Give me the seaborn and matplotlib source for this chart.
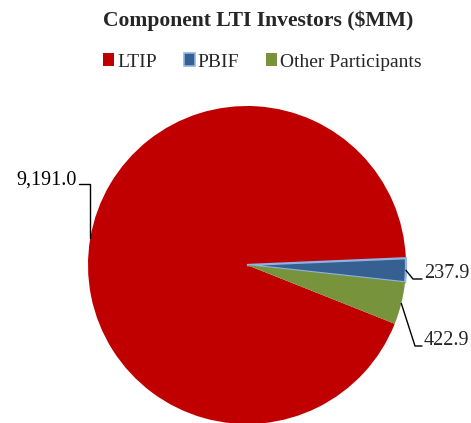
import numpy as np
import matplotlib
matplotlib.use("Agg")
import matplotlib.pyplot as plt
import seaborn as sns
from matplotlib.patches import Patch

categories = ["LTIP", "PBIF", "Other Participants"]
values = [9191.0, 237.9, 422.9]
labels = ["9,191.0", "237.9", "422.9"]
colors = ["#C00000", "#376092", "#77933C"]
title = "Component LTI Investors ($MM)"

sns.set_theme(style="white")
plt.rcParams["font.family"] = ["Liberation Serif", "DejaVu Serif"]

W, H = 471, 423
fig = plt.figure(figsize=(W / 100, H / 100), dpi=100)
ax = fig.add_axes([0, 0, 1, 1])
cx, cy, R = 247, 265, 159  # pixel geometry of pie
start = -21.7

wedges, _ = ax.pie(values, colors=colors, startangle=start, counterclock=False,
                   radius=1.0, wedgeprops=dict(linewidth=0))
wedges[1].set_edgecolor("#8EB4E3")
wedges[1].set_linewidth(1.6)

ax.set_xlim(-cx / R, (W - cx) / R)
ax.set_ylim(-(H - cy) / R, cy / R)
ax.set_aspect("equal", adjustable="datalim")
ax.axis("off")

lw = 1.0
lfs = 14.5
for i, w in enumerate(wedges):
    ang = np.deg2rad((w.theta1 + w.theta2) / 2)
    ex, ey = np.cos(ang), np.sin(ang)
    if i == 0:
        ty = (cy - 184) / R
        tx_end = (79 - cx) / R
        ax.plot([tx_end, ex, ex], [ty, ty, ey], color="black", lw=lw, solid_joinstyle="miter")
        ax.text(tx_end - 2 / R, (cy - 180) / R, labels[i], ha="right", va="center", fontsize=lfs, color="#000000")
    elif i == 1:
        ly = (cy - 279) / R
        cxp = (413 - cx) / R
        tx = (422 - cx) / R
        ax.plot([ex, cxp, tx], [ey, ly, ly], color="black", lw=lw)
        ax.text(tx + 2 / R, (cy - 273) / R, labels[i], ha="left", va="center", fontsize=lfs)
    else:
        ly = (cy - 346) / R
        cxp = (415 - cx) / R
        tx = (422 - cx) / R
        ax.plot([ex, cxp, tx], [ey, ly, ly], color="black", lw=lw)
        ax.text(tx + 2 / R, (cy - 340) / R, labels[i], ha="left", va="center", fontsize=lfs)

fig.text(258 / W, 1 - 21 / H, title, ha="center", va="center", fontsize=15.6, fontweight="bold")

handles = [Patch(facecolor=colors[0], edgecolor="none"),
           Patch(facecolor=colors[1], edgecolor="#8EB4E3", linewidth=1.2),
           Patch(facecolor=colors[2], edgecolor="none")]
fig.legend(handles, categories, loc="center", bbox_to_anchor=(262.5 / W, 1 - 62 / H), ncol=3,
           frameon=False, fontsize=14, handlelength=0.55, handleheight=0.65,
           handletextpad=0.15, columnspacing=1.4, borderpad=0)

fig.savefig("out.png", dpi=100)
